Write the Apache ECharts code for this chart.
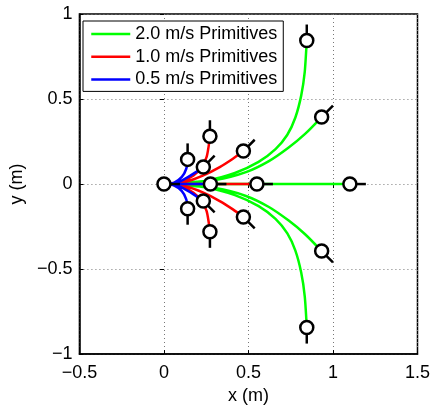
<!DOCTYPE html>
<html>
<head>
<meta charset="utf-8">
<script src="https://cdn.jsdelivr.net/npm/echarts@6/dist/echarts.min.js"></script>
<style>
  html, body { margin: 0; padding: 0; background: #fff; }
  #chart { width: 433px; height: 410px; }
</style>
</head>
<body>
<div id="chart"></div>
<script>
const FONT = "'Liberation Sans', Arial, sans-serif"
const SERIES_NAMES = ['2.0 m/s Primitives', '1.0 m/s Primitives', '0.5 m/s Primitives']
const COLORS = ['#00ff00', '#ff0000', '#0000ff']

// traced curves, [x, y] in metres, one list per primitive
const green = [
  [[0, 0], [0.25, 0.02], [0.42, 0.065], [0.56, 0.13], [0.66, 0.205], [0.73, 0.29], [0.777, 0.39], [0.812, 0.52], [0.833, 0.66], [0.845, 0.844]],
  [[0, 0], [0.31, 0.025], [0.485, 0.07], [0.621, 0.135], [0.738, 0.215], [0.835, 0.295], [0.933, 0.394]],
  [[0, 0], [1.1, 0]],
  [[0, 0], [0.31, -0.025], [0.485, -0.07], [0.621, -0.135], [0.738, -0.215], [0.835, -0.295], [0.933, -0.394]],
  [[0, 0], [0.25, -0.02], [0.42, -0.065], [0.56, -0.13], [0.66, -0.205], [0.73, -0.29], [0.777, -0.39], [0.812, -0.52], [0.833, -0.66], [0.845, -0.844]],
]
const red = [
  [[0, 0], [0.097, 0.013], [0.175, 0.051], [0.223, 0.1], [0.252, 0.158], [0.265, 0.226], [0.272, 0.281]],
  [[0, 0], [0.136, 0.016], [0.233, 0.051], [0.33, 0.1], [0.408, 0.149], [0.47, 0.194]],
  [[0, 0], [0.55, 0]],
  [[0, 0], [0.136, -0.016], [0.233, -0.051], [0.33, -0.1], [0.408, -0.149], [0.47, -0.194]],
  [[0, 0], [0.097, -0.013], [0.175, -0.051], [0.223, -0.1], [0.252, -0.158], [0.265, -0.226], [0.272, -0.281]],
]
const blue = [
  [[0, 0], [0.058, 0.007], [0.106, 0.042], [0.132, 0.09], [0.14, 0.145]],
  [[0, 0], [0.058, 0.003], [0.116, 0.026], [0.175, 0.061], [0.233, 0.1]],
  [[0, 0], [0.275, 0]],
  [[0, 0], [0.058, -0.003], [0.116, -0.026], [0.175, -0.061], [0.233, -0.1]],
  [[0, 0], [0.058, -0.007], [0.106, -0.042], [0.132, -0.09], [0.14, -0.145]],
]

// end poses: x, y, heading (deg)
const poses = [
  [0, 0, 0],
  [0.845, 0.844, 90], [0.933, 0.394, 45], [1.1, 0, 0], [0.933, -0.394, -45], [0.845, -0.844, -90],
  [0.272, 0.281, 90], [0.47, 0.194, 45], [0.55, 0, 0], [0.47, -0.194, -45], [0.272, -0.281, -90],
  [0.14, 0.145, 90], [0.233, 0.1, 45], [0.275, 0, 0], [0.233, -0.1, -45], [0.14, -0.145, -90],
]

const xTicks = [-0.5, 0, 0.5, 1, 1.5]
const yTicks = [-1, -0.5, 0, 0.5, 1]

// join the curves of one speed into a line series, broken by gaps
function joinCurves(curves) {
  const out = []
  curves.forEach((c, i) => {
    if (i > 0) out.push('-')
    c.forEach(p => out.push(p))
  })
  return out
}

const fmt = v => String(v).replace('-', '\u2212')
const gridLine = { show: true, lineStyle: { color: '#777', type: [1, 3], width: 1 } }

const chart = echarts.init(document.getElementById('chart'), null, { renderer: 'canvas' })

const option = {
  animation: false,
  textStyle: { fontFamily: FONT },
  grid: { left: 76, right: 14, top: 14, bottom: 53, show: true, borderColor: '#000', borderWidth: 1.5, backgroundColor: '#fff' },
  legend: {
    data: SERIES_NAMES,
    left: 83, top: 21,
    orient: 'vertical',
    backgroundColor: '#fff',
    borderColor: '#000',
    borderWidth: 1,
    borderRadius: 0,
    padding: [4, 6, 3, 7],
    itemWidth: 39, itemHeight: 18, itemGap: 4.7,
    itemStyle: { opacity: 0 },
    lineStyle: { width: 2.5 },
    textStyle: { fontSize: 18, color: '#000', fontFamily: FONT },
  },
  xAxis: [{
    type: 'value', min: xTicks[0], max: xTicks[xTicks.length - 1], interval: 0.5,
    name: 'x (m)', nameLocation: 'middle', nameGap: 32,
    nameTextStyle: { fontSize: 18, color: '#000' },
    axisLine: { show: true, onZero: false, lineStyle: { color: '#000', width: 1.5 } },
    axisTick: { show: true, inside: true, length: 4, lineStyle: { color: '#000' } },
    axisLabel: { fontSize: 18, color: '#000', margin: 10, formatter: fmt },
    splitLine: gridLine,
  }, {
    type: 'value', position: 'top', min: xTicks[0], max: xTicks[xTicks.length - 1], interval: 0.5,
    axisLine: { show: false },
    axisTick: { show: true, inside: true, length: 4, lineStyle: { color: '#000' } },
    axisLabel: { show: false }, splitLine: { show: false },
  }],
  yAxis: [{
    type: 'value', min: yTicks[0], max: yTicks[yTicks.length - 1], interval: 0.5,
    name: 'y (m)', nameLocation: 'middle', nameGap: 52,
    nameTextStyle: { fontSize: 18, color: '#000' },
    axisLine: { show: true, onZero: false, lineStyle: { color: '#000', width: 1.5 } },
    axisTick: { show: true, inside: true, length: 4, lineStyle: { color: '#000' } },
    axisLabel: { fontSize: 18, color: '#000', margin: 7, formatter: fmt },
    splitLine: gridLine,
  }, {
    type: 'value', position: 'right', min: yTicks[0], max: yTicks[yTicks.length - 1], interval: 0.5,
    axisLine: { show: false },
    axisTick: { show: true, inside: true, length: 4, lineStyle: { color: '#000' } },
    axisLabel: { show: false }, splitLine: { show: false },
  }],
  series: [
    ...[green, red, blue].map((curves, i) => ({
      name: SERIES_NAMES[i],
      type: 'line',
      data: joinCurves(curves),
      smooth: 0.25,
      symbol: 'none',
      connectNulls: false,
      lineStyle: { color: COLORS[i], width: 2.5 },
      itemStyle: { color: COLORS[i] },
      z: 3,
    })),
    {
      type: 'custom',
      data: poses,
      z: 5,
      renderItem: (params, api) => {
        const c = api.coord([api.value(0), api.value(1)])
        const h = api.value(2) * Math.PI / 180
        return {
          type: 'group',
          children: [
            {
              type: 'line',
              shape: { x1: c[0], y1: c[1], x2: c[0] + 16 * Math.cos(h), y2: c[1] - 16 * Math.sin(h) },
              style: { stroke: '#000', lineWidth: 2.5 },
            },
            {
              type: 'circle',
              shape: { cx: c[0], cy: c[1], r: 6.5 },
              style: { fill: '#fff', stroke: '#000', lineWidth: 2.5 },
            },
          ],
        }
      },
    },
  ],
}

chart.setOption(option)
</script>
</body>
</html>
